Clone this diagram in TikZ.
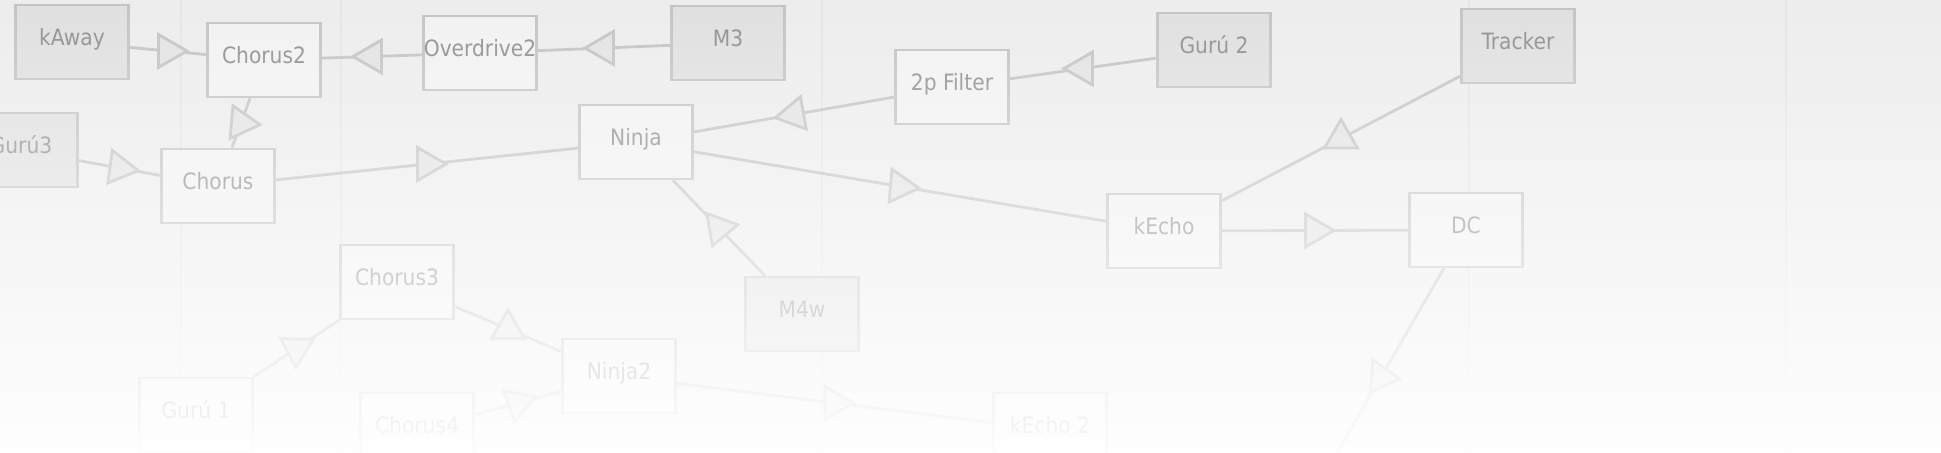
\documentclass[tikz,border=0pt]{standalone}
\usepackage{fontspec}
\setmainfont{DejaVu Sans Condensed}
\usepackage{tikz}
\usetikzlibrary{shapes.geometric,fadings}
\usepackage{xcolor}
\colorlet{c1}{black!7}
\colorlet{c2}{black!12}
\colorlet{c3}{black!5}
\colorlet{c4}{black!23}
\colorlet{c5}{black!44}
\colorlet{c6}{black!11}
\tikzfading[name=fadedown, top color=transparent!100, middle color=transparent!66, bottom color=transparent!4]

\begin{document}
\begin{tikzpicture}[x=0.1mm, y=-0.1mm, line width=0.8pt]
\tikzstyle{box}=[rectangle,draw=c4,fill=c3,text=c5,minimum width=11.3mm,minimum height=7.4mm,inner sep=0pt,text height=1.7mm,text depth=0.95mm,font=\fontsize{6.4}{7}\selectfont]
\tikzstyle{tri}=[regular polygon,regular polygon sides=3,draw=c4,fill=c6,minimum size=3.8mm,inner sep=0pt,rotate=#1-90]
\useasboundingbox (0,0) rectangle (1941,453);
\fill[c1] (0,0) rectangle (1941,453);
\foreach \x in {181,341,822,1469,1786}
  \draw[black!10, line width=0.5pt] (\x,0) -- (\x,453);

\node[box, fill=c2] (kaway)    at (72,42)    {kAway};
\node[box]          (chorus2)  at (264,60)   {Chorus2};
\node[box]          (overdrive) at (480,53)  {Overdrive2};
\node[box, fill=c2] (m3)       at (728,43)   {M3};
\node[box, fill=c2] (guru3)    at (21,150)   {Gurú3};
\node[box]          (chorus)   at (218,186)  {Chorus};
\node[box]          (ninja)    at (636,142)  {Ninja};
\node[box]          (filter)   at (952,87)   {2p Filter};
\node[box, fill=c2] (guru2)    at (1214,50)  {Gurú 2};
\node[box, fill=c2] (tracker)  at (1518,46)  {Tracker};
\node[box]          (kecho)    at (1164,231) {kEcho};
\node[box]          (dc)       at (1466,230) {DC};
\node[box, fill=c2] (m4w)      at (802,314)  {M4w};
\node[box]          (chorus3)  at (397,282)  {Chorus3};
\node[box]          (ninja2)   at (619,376)  {Ninja2};
\node[box]          (guru1)    at (196,415)  {Gurú 1};
\node[box]          (chorus4)  at (417,430)  {Chorus4};
\node[box]          (kecho2)   at (1050,430) {kEcho 2};
\coordinate (dcout) at (1318,486);

\draw[c4]
(kaway) edge node[tri=0] {} (chorus2)
(overdrive) edge node[tri=180] {} (chorus2)
(m3) edge node[tri=180] {} (overdrive)
(chorus2) edge node[tri=-5] {} (chorus)
(guru3) edge node[tri=-8] {} (chorus)
(chorus) edge node[tri=0] {} (ninja)
(filter) edge node[tri=190] {} (ninja)
(guru2) edge node[tri=180] {} (filter)
(ninja) edge node[tri=-5] {} (kecho)
(m4w) edge node[tri=10] {} (ninja)
(tracker) edge node[tri=90] {} (kecho)
(kecho) edge node[tri=0] {} (dc)
(dc) edge node[tri=-5] {} (dcout)
(guru1) edge node[tri=-92] {} (chorus3)
(chorus3) edge node[tri=90] {} (ninja2)
(chorus4) edge node[tri=-100] {} (ninja2)
(ninja2) edge node[tri=0] {} (kecho2);

% fade towards the bottom
\fill[white, path fading=fadedown] (0,0) rectangle (1941,453);
\end{tikzpicture}
\end{document}
